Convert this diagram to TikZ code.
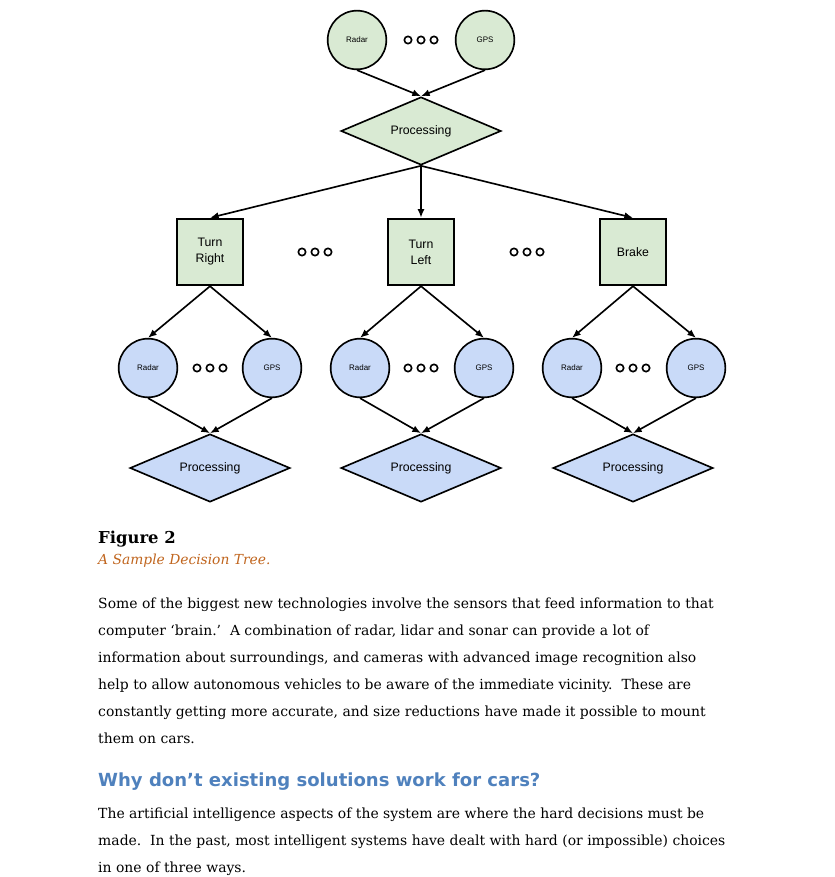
\documentclass[tikz,border=0pt]{standalone}
\usepackage{fontspec}
\setmainfont{DejaVu Serif}
\setsansfont{Liberation Sans}
\newfontfamily\headfont{DejaVu Sans}
\usetikzlibrary{%
  arrows.meta,%
  shapes.geometric%
}
\tikzset{>={Latex[length=2.6mm,width=2.1mm]}}
\definecolor{greenfill}{HTML}{D9EAD3}
\definecolor{bluefill}{HTML}{C9DAF8}
\definecolor{headblue}{HTML}{4F81BD}
\definecolor{captorange}{HTML}{C0651E}
\tikzset{
  sensor/.style={circle,draw,line width=1.4pt,minimum size=1.76cm,inner sep=0pt,
    font=\sffamily\fontsize{6.8}{7}\selectfont},
  proc/.style={diamond,draw,line width=1.4pt,minimum width=4.8cm,minimum height=2.04cm,
    aspect=2.35,inner sep=0pt,font=\sffamily\fontsize{10.5}{12}\selectfont},
  action/.style={rectangle,draw,line width=1.5pt,fill=greenfill,minimum width=1.96cm,
    minimum height=2.0cm,align=center,font=\sffamily\fontsize{10.5}{13.7}\selectfont},
  more/.style={circle,draw,line width=1.4pt,minimum size=0.22cm,inner sep=0pt},
  link/.style={->,line width=1.4pt},
  body/.style={anchor=base west,inner sep=0pt,font=\fontsize{11.9}{13}\selectfont}
}

\begin{document}
\begin{tikzpicture}[x=0.03cm,y=-0.03cm]
  \useasboundingbox (0,0) rectangle (834,877);
  % top sensors
  \node[sensor,fill=greenfill] (radar) at (357,40) {Radar};
  \node[sensor,fill=greenfill] (gps) at (485,40) {GPS};
  \node[more] (m1) at (408,40) {}; \node[more] (m2) at (421,40) {}; \node[more] (m3) at (434,40) {};
  \node[proc,fill=greenfill] (proc) at (421,131) {Processing};
  \draw[link] (radar.south) -- (proc.north);
  \draw[link] (gps.south) -- (proc.north);
  % decisions
  \node[action] (tright) at (210,252) {Turn\\Right};
  \node[action] (tleft) at (421,252) {Turn\\Left};
  \node[action] (brake) at (633,252) {Brake};
  \node[more] (m4) at (302,252) {}; \node[more] (m5) at (315,252) {}; \node[more] (m6) at (328,252) {};
  \node[more] (m7) at (514,252) {}; \node[more] (m8) at (527,252) {}; \node[more] (m9) at (540,252) {};
  \draw[link] (proc.south) -- (tright.north);
  \draw[link] (proc.south) -- (tleft.north);
  \draw[link] (proc.south) -- (brake.north);
  % turn right branch
  \node[sensor,fill=bluefill] (radarR) at (148,368) {Radar};
  \node[sensor,fill=bluefill] (gpsR) at (272,368) {GPS};
  \node[more] (mR1) at (197,368) {}; \node[more] (mR2) at (210,368) {}; \node[more] (mR3) at (223,368) {};
  \node[proc,fill=bluefill] (procR) at (210,468) {Processing};
  \draw[link] (tright.south) -- (radarR.north);
  \draw[link] (tright.south) -- (gpsR.north);
  \draw[link] (radarR.south) -- (procR.north);
  \draw[link] (gpsR.south) -- (procR.north);
  % turn left branch
  \node[sensor,fill=bluefill] (radarL) at (360,368) {Radar};
  \node[sensor,fill=bluefill] (gpsL) at (484,368) {GPS};
  \node[more] (mL1) at (408,368) {}; \node[more] (mL2) at (421,368) {}; \node[more] (mL3) at (434,368) {};
  \node[proc,fill=bluefill] (procL) at (421,468) {Processing};
  \draw[link] (tleft.south) -- (radarL.north);
  \draw[link] (tleft.south) -- (gpsL.north);
  \draw[link] (radarL.south) -- (procL.north);
  \draw[link] (gpsL.south) -- (procL.north);
  % brake branch
  \node[sensor,fill=bluefill] (radarB) at (572,368) {Radar};
  \node[sensor,fill=bluefill] (gpsB) at (696,368) {GPS};
  \node[more] (mB1) at (620,368) {}; \node[more] (mB2) at (633,368) {}; \node[more] (mB3) at (646,368) {};
  \node[proc,fill=bluefill] (procB) at (633,468) {Processing};
  \draw[link] (brake.south) -- (radarB.north);
  \draw[link] (brake.south) -- (gpsB.north);
  \draw[link] (radarB.south) -- (procB.north);
  \draw[link] (gpsB.south) -- (procB.north);
  % caption and page text
  \node[body,font=\fontsize{14}{15}\selectfont\bfseries] (fig) at (98,543) {Figure 2};
  \node[body,text=captorange,font=\fontsize{11.8}{13}\selectfont\itshape] (cap) at (98,564) {A Sample Decision Tree.};
  \node[body] (l1) at (98,608) {Some of the biggest new technologies involve the sensors that feed information to that};
  \node[body] (l2) at (98,635) {computer ‘brain.’\ \ A combination of radar, lidar and sonar can provide a lot of};
  \node[body] (l3) at (98,662) {information about surroundings, and cameras with advanced image recognition also};
  \node[body] (l4) at (98,689) {help to allow autonomous vehicles to be aware of the immediate vicinity.\ \ These are};
  \node[body] (l5) at (98,716) {constantly getting more accurate, and size reductions have made it possible to mount};
  \node[body] (l6) at (98,743) {them on cars.};
  \node[body,text=headblue,font=\headfont\fontsize{15.4}{17}\selectfont\bfseries] (head) at (98,786) {Why don’t existing solutions work for cars?};
  \node[body] (l7) at (98,818) {The artificial intelligence aspects of the system are where the hard decisions must be};
  \node[body] (l8) at (98,845) {made.\ \ In the past, most intelligent systems have dealt with hard (or impossible) choices};
  \node[body] (l9) at (98,872) {in one of three ways.};
\end{tikzpicture}
\end{document}
